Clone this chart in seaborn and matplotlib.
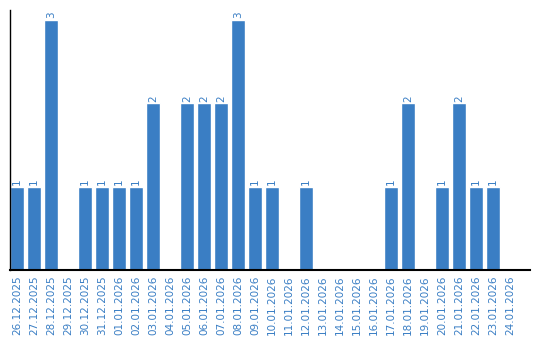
import matplotlib
matplotlib.use("Agg")
import matplotlib.pyplot as plt
import seaborn as sns
import pandas as pd

dates = ["26.12.2025", "27.12.2025", "28.12.2025", "29.12.2025", "30.12.2025",
         "31.12.2025", "01.01.2026", "02.01.2026", "03.01.2026", "04.01.2026",
         "05.01.2026", "06.01.2026", "07.01.2026", "08.01.2026", "09.01.2026",
         "10.01.2026", "11.01.2026", "12.01.2026", "13.01.2026", "14.01.2026",
         "15.01.2026", "16.01.2026", "17.01.2026", "18.01.2026", "19.01.2026",
         "20.01.2026", "21.01.2026", "22.01.2026", "23.01.2026", "24.01.2026"]
counts = [1, 1, 3, 0, 1, 1, 1, 1, 2, 0,
          2, 2, 2, 3, 1, 1, 0, 1, 0, 0,
          0, 0, 1, 2, 0, 1, 2, 1, 1, 0]

df = pd.DataFrame({"date": dates, "count": counts})
color = "#3a7ec4"

sns.set_style("white")
fig = plt.figure(figsize=(5.4, 3.4), dpi=100)
ax = fig.add_axes([10 / 540, 1 - 270 / 340, 520 / 540, 260 / 340])
sns.barplot(data=df, x="date", y="count", color=color, saturation=1, width=0.82, ax=ax)

ax.set_xlim(-0.41, 30.18)
ax.set_ylim(0, 3.12)
ax.set_xlabel("")
ax.set_ylabel("")
ax.set_yticks([])
ax.tick_params(axis="x", length=0, pad=4, labelsize=7.5, labelcolor=color, rotation=90)
for s in ["top", "right"]:
    ax.spines[s].set_visible(False)
ax.spines["left"].set_color("black")
ax.spines["left"].set_linewidth(1)
ax.spines["bottom"].set_color("black")
ax.spines["bottom"].set_linewidth(1.5)

for i, v in enumerate(counts):
    if v > 0:
        ax.text(i, v + 0.02, str(v), rotation=90, ha="center", va="bottom",
                fontsize=7.5, color=color)

fig.savefig("out.png", dpi=100)
